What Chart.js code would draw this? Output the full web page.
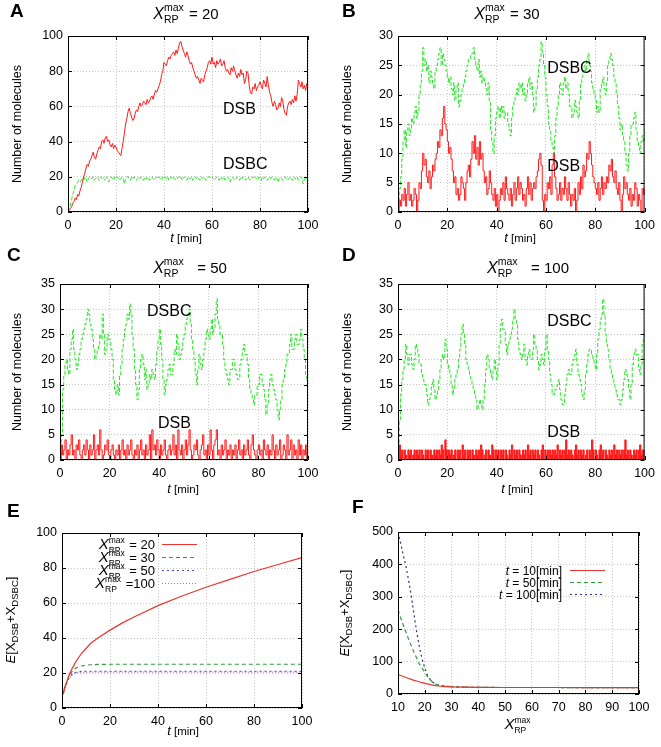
<!DOCTYPE html>
<html>
<head>
<meta charset="utf-8">
<title>DSB / DSBC trajectories</title>
<script src="https://cdn.jsdelivr.net/npm/chart.js@4.4.1/dist/chart.umd.min.js"></script>
<style>
  body { margin: 0; background: #fff; }
  #wrap { position: relative; width: 661px; height: 747px; overflow: hidden; background: #fff; }
  canvas { position: absolute; }
</style>
</head>
<body>
<div id="wrap"></div>
<script>
// sample times for panels A-D, every half minute
const tMin = Array.from({ length: 201 }, (_, i) => i / 2);

// A : X_RP^max = 20
const dsbA = [
  0,1,2,3,5,6,8,7,10,9, 12,14,17,20,22,25,27,26,29,30,
  32,34,31,30,33,35,37,36,40,41, 39,42,43,40,41,38,37,39,36,38,
  37,35,34,33,32,36,40,45,50,53, 57,59,56,54,52,53,56,58,57,60,
  62,60,61,63,62,61,64,62,63,65, 66,64,67,69,68,70,72,74,78,80,
  85,84,83,86,88,87,89,90,91,89, 92,90,93,96,97,94,92,90,88,91,
  89,86,84,85,82,80,78,76,77,75, 73,76,75,74,78,80,82,85,86,84,
  88,84,85,82,86,84,85,87,83,84, 86,82,80,81,79,78,82,80,83,80,
  78,76,79,77,81,78,79,73,75,80, 79,72,68,67,71,70,73,69,71,72,
  74,72,70,75,73,71,77,72,68,66, 62,60,63,61,58,59,62,60,65,63,
  58,56,55,60,62,63,61,64,62,66, 63,67,75,73,71,74,70,72,69,73,
  70
];
const dsbcA = [
  0,2,4,7,10,12,15,16,17,18, 17,18,19,18,20,19,17,19,20,19,
  19,20,18,19,20,19,18,20,19,20, 19,18,20,19,17,19,20,19,18,20,
  19,20,19,18,19,20,19,16,19,20, 20,19,18,20,19,20,19,18,19,20,
  19,20,19,18,20,19,19,20,18,19, 20,19,18,19,20,19,20,19,18,20,
  19,20,19,20,18,19,20,19,20,19, 18,19,20,19,20,18,19,20,19,18,
  20,19,19,20,18,19,20,19,20,19, 18,20,19,20,19,18,19,20,20,19,
  20,19,18,19,20,19,18,20,19,19, 20,18,19,20,19,17,19,20,19,18,
  19,20,19,18,20,19,20,19,18,19, 20,19,18,19,20,19,20,19,18,20,
  19,18,20,19,20,19,18,19,20,19, 20,19,18,20,19,17,19,20,19,18,
  19,20,19,18,19,20,19,18,20,19, 19,20,18,19,20,19,16,19,20,19,
  20
];

// B : X_RP^max = 30
const dsbB = [
  0,2,1,3,2,4,1,3,5,2, 3,1,2,4,3,0,2,5,4,7,
  10,8,9,6,5,7,4,6,8,7, 9,10,12,11,14,13,16,18,15,14,
  12,10,11,9,7,5,6,3,4,2, 3,6,5,4,2,5,7,8,6,9,
  12,10,13,9,11,8,12,9,10,7, 5,6,3,4,7,5,3,2,4,1,
  3,0,2,4,3,5,2,6,4,3, 2,4,1,3,5,2,4,6,3,5,
  4,2,3,1,4,6,3,5,2,4, 5,4,6,7,9,10,8,2,0,3,
  2,5,4,6,3,8,10,6,4,2, 3,5,2,4,3,6,4,2,5,3,
  1,3,2,4,0,2,5,3,6,4, 8,6,7,10,9,12,10,8,6,5,
  4,3,5,2,4,6,3,5,4,6, 5,8,7,9,6,5,7,4,3,5,
  2,0,3,6,4,5,3,2,4,1, 3,2,5,4,1,3,2,0,4,3,
  4
];
const dsbcB = [
  2,4,6,9,12,14,11,14,15,13, 14,16,15,17,18,16,17,20,22,24,
  28,25,26,24,25,22,24,23,22,21, 24,25,26,27,28,25,27,26,25,24,
  23,22,23,21,20,22,19,21,22,18, 19,20,21,22,23,24,25,26,26,27,
  27,28,26,25,24,26,23,24,22,23, 22,21,20,22,19,14,12,10,13,16,
  17,18,16,18,17,18,16,17,17,15, 14,13,16,18,19,20,21,20,22,21,
  22,20,21,19,20,22,23,21,22,20, 17,18,21,23,25,26,29,27,25,23,
  20,18,15,14,12,11,10,13,16,18, 20,22,21,20,22,23,21,22,20,18,
  18,16,17,19,18,17,16,19,22,23, 24,25,24,26,27,25,24,22,21,20,
  19,17,18,17,21,22,23,21,20,22, 25,26,27,26,25,23,22,20,18,16,
  14,15,13,12,10,8,7,10,13,15, 15,16,17,14,12,11,10,12,13,12,
  14
];

// C : X_RP^max = 50
const dsbC = [
  0,3,1,2,4,0,2,1,3,5, 1,2,0,3,2,4,1,0,2,3,
  1,4,2,0,3,1,2,5,0,2, 3,1,6,2,0,1,3,2,4,1,
  0,2,3,1,0,2,1,3,0,2, 4,1,2,0,3,1,2,4,1,0,
  2,1,3,0,2,4,1,2,0,3, 1,2,5,0,6,2,3,1,4,2,
  0,3,1,2,4,1,0,2,3,1, 2,5,1,3,0,6,2,1,3,0,
  2,4,1,3,6,2,0,1,3,2, 4,1,0,2,3,5,1,2,0,3,
  1,6,2,0,3,4,6,1,2,0, 3,1,2,4,0,2,1,3,0,2,
  1,3,0,2,4,1,2,0,3,1, 2,4,1,0,3,5,2,1,0,2,
  3,1,2,0,4,2,1,3,0,2, 1,5,2,0,3,1,2,4,0,1,
  3,2,0,5,1,2,4,0,3,1, 2,0,4,1,3,0,2,1,3,0,
  1
];
const dsbcC = [
  0,5,14,17,19,20,18,17,22,24, 26,22,20,18,19,21,22,24,25,26,
  27,28,30,29,27,26,24,22,20,21, 22,23,25,24,29,25,21,22,25,24,
  24,22,20,16,14,13,15,13,17,19, 22,24,26,27,29,28,31,29,25,22,
  18,15,12,14,18,20,21,19,16,18, 14,15,17,16,18,17,16,19,22,24,
  26,23,20,16,13,15,16,18,19,17, 17,19,22,21,25,23,20,21,22,24,
  25,27,28,29,30,27,24,22,20,17, 15,18,21,19,18,20,22,24,26,25,
  24,26,28,25,26,29,32,28,27,25, 25,23,20,18,17,16,15,18,18,20,
  20,18,17,16,16,19,20,22,23,21, 21,19,16,14,13,12,11,13,13,15,
  15,17,17,15,14,12,9,11,14,16, 17,15,14,13,12,10,8,10,12,15,
  16,18,19,21,21,23,25,22,22,24, 25,23,23,24,26,24,22,20,17,16,
  15
];

// D : X_RP^max = 100
const dsbD = [
  0,3,1,2,0,2,1,0,2,1, 2,0,1,2,0,2,1,2,0,2,
  1,0,2,1,2,0,2,1,0,2, 1,2,0,2,1,3,2,0,4,2,
  0,2,1,2,0,1,2,0,2,1, 2,0,3,1,2,0,2,1,2,0,
  2,1,0,2,1,2,0,3,2,0, 1,2,0,2,1,0,3,2,0,2,
  1,2,0,2,1,2,0,2,1,0, 2,1,3,0,2,1,2,0,2,1,
  0,2,1,2,0,3,1,2,0,2, 1,2,0,2,1,0,2,3,0,2,
  1,2,0,2,1,2,0,2,1,3, 0,2,1,2,0,2,4,1,2,0,
  2,1,0,2,3,1,2,0,2,1, 2,0,1,2,0,2,1,4,2,0,
  2,1,0,2,3,1,2,0,2,1, 0,2,1,2,0,3,1,2,0,2,
  1,2,0,2,4,1,2,0,2,1, 0,2,1,2,0,2,3,1,2,0,
  2
];
const dsbcD = [
  0,8,13,16,18,20,23,21,19,21, 21,19,18,20,23,22,21,19,19,17,
  16,15,15,13,11,12,13,15,16,14, 12,13,14,16,18,20,21,20,24,22,
  19,18,17,15,13,14,16,17,18,20, 22,25,27,25,23,20,19,18,17,16,
  15,14,13,12,10,11,12,11,10,12, 15,18,21,20,18,17,16,18,20,18,
  16,19,23,27,28,26,26,23,21,23, 24,25,26,28,30,28,27,24,22,21,
  20,21,23,20,19,21,22,20,20,22, 25,23,22,20,18,19,21,20,19,22,
  25,22,20,17,15,13,13,14,14,15, 16,14,12,11,11,13,15,17,18,17,
  17,19,20,21,22,19,17,16,15,13, 12,14,17,19,21,22,22,21,20,19,
  18,21,24,26,28,29,32,29,25,23, 22,20,18,17,16,15,14,13,12,12,
  11,12,14,16,18,17,16,14,12,15, 19,21,22,21,21,18,17,19,23,24,
  26
];

// E : mean of X_DSB + X_DSBC over time
const tE = [0.5, 1, 2, 3, 4, 5, 6, 7, 8, 10, 12, 15, 20, 25, 30, 40, 50, 60, 70, 80, 90, 100];
const meanE20 = [8, 11, 15, 19, 22, 24.5, 27, 29, 31, 34, 37, 40, 44.5, 48.5, 52, 58.5, 64, 69, 73.5, 78, 82, 86];
const meanE30 = [8, 11, 15, 18.5, 20.5, 22, 23, 23.6, 24, 24.5, 24.7, 24.9, 25, 25, 25, 25, 25, 25, 25, 25, 25, 25];
const meanE50 = [8, 11, 14.5, 17.5, 19, 20, 20.5, 20.7, 20.9, 21, 21, 21, 21, 21, 21, 21, 21, 21, 21, 21, 21, 21];
const meanE100 = [8, 11, 14.5, 17, 18.5, 19.5, 20, 20.2, 20.3, 20.4, 20.5, 20.5, 20.5, 20.5, 20.5, 20.5, 20.5, 20.5, 20.5, 20.5, 20.5, 20.5];

// F : mean of X_DSB + X_DSBC against X_RP^max
const xRP = [10, 11, 12, 13, 14, 15, 16, 17, 18, 19, 20, 21, 22, 23, 24, 25, 26, 27, 28, 30, 35, 40, 50, 60, 70, 80, 90, 100];
const meanF10 = [60, 57, 54, 51, 48, 45, 42, 40, 37, 35, 33, 31, 29, 27.5, 26, 25, 24, 23.5, 23, 22, 21, 20.5, 20, 20, 20, 19.5, 19.5, 19.5];
const meanF50 = [260, 235, 212, 190, 168, 148, 128, 110, 92, 80, 66, 54, 44, 36, 31, 27, 25.5, 24.5, 23.5, 22.5, 21, 20.5, 20, 20, 20, 19.5, 19.5, 19.5];
const meanF100 = [500, 465, 428, 392, 350, 300, 245, 190, 145, 108, 80, 58, 45, 36, 31, 28, 26, 25, 24, 22.5, 21, 20.5, 20, 20, 20, 19.5, 19.5, 19.5];

const FONT = '"Liberation Sans", Arial, Helvetica, sans-serif';
const RED = '#ff1a1a';
const GREEN = '#22e822';

function font(size, italic, bold) {
  return (italic ? 'italic ' : '') + (bold ? 'bold ' : '') + size + 'px ' + FONT;
}

function pts(xs, ys) {
  return xs.map((x, i) => ({ x: x, y: ys[i] }));
}

// rich text: {t, s, i, b} plain run, {sup, sub, s, up, down} stacked scripts
function partWidth(ctx, p) {
  if (p.t !== undefined) {
    ctx.font = font(p.s, p.i, p.b);
    return ctx.measureText(p.t).width + (p.dx || 0);
  }
  ctx.font = font(p.s);
  const a = p.sup ? ctx.measureText(p.sup).width : 0;
  const b = p.sub ? ctx.measureText(p.sub).width : 0;
  return Math.max(a, b) + (p.dx || 0);
}

function drawRich(ctx, parts, x, y, align) {
  const widths = parts.map(p => partWidth(ctx, p));
  const total = widths.reduce((a, b) => a + b, 0);
  let cx = align === 'center' ? x - total / 2 : align === 'right' ? x - total : x;
  ctx.textAlign = 'left';
  ctx.textBaseline = 'alphabetic';
  ctx.fillStyle = '#000';
  parts.forEach((p, k) => {
    if (p.t !== undefined) {
      ctx.font = font(p.s, p.i, p.b);
      ctx.fillText(p.t, cx, y);
    } else {
      ctx.font = font(p.s);
      if (p.sup) ctx.fillText(p.sup, cx, y - p.up);
      if (p.sub) ctx.fillText(p.sub, cx, y + p.down);
    }
    cx += widths[k];
  });
}

function makeDecor(texts) {
  return {
    id: 'decor',
    afterDatasetsDraw(chart) {
      const { ctx, chartArea: a, scales } = chart;
      ctx.save();
      ctx.strokeStyle = '#000';
      ctx.lineWidth = 1;
      ctx.strokeRect(a.left + 0.5, a.top + 0.5, a.right - a.left - 1, a.bottom - a.top - 1);
      ctx.beginPath();
      scales.x.ticks.forEach(t => {
        const px = Math.round(scales.x.getPixelForValue(t.value)) + 0.5;
        ctx.moveTo(px, a.bottom); ctx.lineTo(px, a.bottom - 4);
        ctx.moveTo(px, a.top); ctx.lineTo(px, a.top + 4);
      });
      scales.y.ticks.forEach(t => {
        const py = Math.round(scales.y.getPixelForValue(t.value)) + 0.5;
        ctx.moveTo(a.left, py); ctx.lineTo(a.left + 4, py);
        ctx.moveTo(a.right, py); ctx.lineTo(a.right - 4, py);
      });
      ctx.stroke();
      ctx.restore();
    },
    afterDraw(chart) {
      const { ctx, scales } = chart;
      ctx.save();
      texts.forEach(tx => {
        if (tx.rot) {
          ctx.save();
          ctx.translate(tx.x, tx.y);
          ctx.rotate(-Math.PI / 2);
          drawRich(ctx, tx.parts, 0, 0, 'center');
          ctx.restore();
        } else if (tx.at) {
          const px = scales.x.getPixelForValue(tx.at[0]);
          const py = scales.y.getPixelForValue(tx.at[1]);
          drawRich(ctx, tx.parts, px, py + 0.36 * tx.parts[0].s, 'left');
        } else if (tx.legend) {
          const ds = chart.data.datasets;
          tx.legend.forEach((row, i) => {
            const y = tx.rows[i];
            drawRich(ctx, row, tx.x, y, 'right');
            ctx.save();
            ctx.strokeStyle = ds[i].borderColor;
            ctx.lineWidth = ds[i].borderWidth;
            ctx.setLineDash(ds[i].borderDash || []);
            ctx.beginPath();
            ctx.moveTo(tx.x1, y - 4.5);
            ctx.lineTo(tx.x2, y - 4.5);
            ctx.stroke();
            ctx.restore();
          });
        } else {
          drawRich(ctx, tx.parts, tx.x, tx.y, tx.align || 'left');
        }
      });
      ctx.restore();
    }
  };
}

function axis(min, max, step, size) {
  return {
    type: 'linear', min: min, max: max,
    ticks: { stepSize: step, autoSkip: false, maxRotation: 0, color: '#000', font: { family: FONT, size: 12.5 }, padding: 5 },
    grid: { color: '#c8c8c8', lineWidth: 1, drawTicks: false },
    border: { display: false, dash: [1, 2] },
    afterFit: size
  };
}

function panel(box, area, datasets, xr, yr, texts) {
  const canvas = document.createElement('canvas');
  canvas.width = box.w;
  canvas.height = box.h;
  canvas.style.left = box.left + 'px';
  canvas.style.top = box.top + 'px';
  document.getElementById('wrap').appendChild(canvas);
  const xAxis = axis(xr[0], xr[1], xr[2], s => { s.height = box.h - area.b; });
  xAxis.ticks.padding = 6;
  const yAxis = axis(yr[0], yr[1], yr[2], s => { s.width = area.l; });
  return new Chart(canvas, {
    type: 'line',
    data: { datasets: datasets },
    options: {
      responsive: false,
      animation: false,
      devicePixelRatio: 1,
      layout: { padding: { left: 0, top: area.t, right: box.w - area.r, bottom: 0 } },
      plugins: { legend: { display: false }, tooltip: { enabled: false } },
      elements: { point: { radius: 0 }, line: { tension: 0 } },
      scales: { x: xAxis, y: yAxis }
    },
    plugins: [makeDecor(texts)]
  });
}

function trace(ys, color, dashed, stepped, filled) {
  return {
    data: pts(tMin, ys), borderColor: color, borderWidth: 1,
    borderDash: dashed ? [4, 2] : [], stepped: stepped,
    fill: filled ? 'origin' : false, backgroundColor: color
  };
}

function titleParts(n, gap) {
  return [
    { t: 'X', s: 16, i: true },
    { sup: 'max', sub: 'RP', s: 10.5, up: 8, down: 4, dx: 1 },
    { t: gap + '= ' + n, s: 15 }
  ];
}
const tLabel = [{ t: 't', s: 13, i: true }, { t: ' [min]', s: 11.5 }];
const molLabel = [{ t: 'Number of molecules', s: 12.5 }];
const meanLabel = [
  { t: 'E', s: 13, i: true }, { t: '[X', s: 13 }, { sub: 'DSB', s: 9.5, down: 3 },
  { t: '+X', s: 13 }, { sub: 'DSBC', s: 9.5, down: 3 }, { t: ']', s: 13 }
];
function letter(ch, x, y) {
  return { x: x, y: y, parts: [{ t: ch, s: 19, b: true }] };
}
function xrpParts(rest, s) {
  return [{ t: 'X', s: s + 2, i: true }, { sup: 'max', sub: 'RP', s: 8.5, up: 6.5, down: 3.5, dx: 1 }, { t: rest, s: s }];
}

// A
panel({ left: 0, top: 0, w: 330, h: 250 }, { l: 68, t: 36, r: 308, b: 212 },
  [trace(dsbA, RED, false, false), trace(dsbcA, GREEN, true, false)],
  [0, 100, 20], [0, 100, 20], [
    letter('A', 10, 17),
    { x: 186, y: 19, align: 'center', parts: titleParts('20', ' ') },
    { x: 186, y: 242, align: 'center', parts: tLabel },
    { rot: true, x: 21, y: 124, parts: molLabel },
    { at: [64.6, 59], parts: [{ t: 'DSB', s: 16 }] },
    { at: [64.6, 27.8], parts: [{ t: 'DSBC', s: 16 }] }
  ]);

// B
panel({ left: 330, top: 0, w: 331, h: 250 }, { l: 68, t: 36, r: 316, b: 212 },
  [trace(dsbB, RED, false, true), trace(dsbcB, GREEN, true, true)],
  [0, 100, 20], [0, 30, 5], [
    letter('B', 12, 17),
    { x: 177, y: 19, align: 'center', parts: titleParts('30', ' ') },
    { x: 190, y: 242, align: 'center', parts: tLabel },
    { rot: true, x: 21, y: 124, parts: molLabel },
    { at: [60.5, 24.7], parts: [{ t: 'DSBC', s: 16 }] },
    { at: [60.5, 8.0], parts: [{ t: 'DSB', s: 16 }] }
  ]);

// C
panel({ left: 0, top: 240, w: 330, h: 262 }, { l: 60, t: 44, r: 308, b: 220 },
  [trace(dsbC, RED, false, true), trace(dsbcC, GREEN, true, true)],
  [0, 100, 20], [0, 35, 5], [
    letter('C', 7, 21),
    { x: 190, y: 33, align: 'center', parts: titleParts('50', '   ') },
    { x: 183, y: 253, align: 'center', parts: tLabel },
    { rot: true, x: 21, y: 132, parts: molLabel },
    { at: [35.1, 29.8], parts: [{ t: 'DSBC', s: 16 }] },
    { at: [39.5, 7.6], parts: [{ t: 'DSB', s: 16 }] }
  ]);

// D
panel({ left: 330, top: 240, w: 331, h: 262 }, { l: 68, t: 44, r: 316, b: 220 },
  [trace(dsbD, RED, false, true, true), trace(dsbcD, GREEN, true, true)],
  [0, 100, 20], [0, 35, 5], [
    letter('D', 12, 21),
    { x: 198, y: 33, align: 'center', parts: titleParts('100', '   ') },
    { x: 187, y: 253, align: 'center', parts: tLabel },
    { rot: true, x: 21, y: 132, parts: molLabel },
    { at: [60.5, 27.8], parts: [{ t: 'DSBC', s: 16 }] },
    { at: [60.5, 5.8], parts: [{ t: 'DSB', s: 16 }] }
  ]);

// E
function meanLine(xs, ys, color, dash) {
  return { data: pts(xs, ys), borderColor: color, borderWidth: 1.2, borderDash: dash, fill: false };
}
panel({ left: 0, top: 480, w: 330, h: 267 }, { l: 62, t: 53, r: 302, b: 228 },
  [meanLine(tE, meanE20, '#e8352e', []), meanLine(tE, meanE30, '#2e9e3c', [4, 3]),
   meanLine(tE, meanE50, '#4a4ab0', [2, 3]), meanLine(tE, meanE100, '#c85ac8', [1, 2])],
  [0, 100, 20], [0, 100, 20], [
    letter('E', 7, 37),
    { rot: true, x: 15, y: 140, parts: meanLabel },
    { x: 183, y: 255, align: 'center', parts: tLabel },
    { legend: [xrpParts(' = 20', 13), xrpParts(' = 30', 13), xrpParts(' = 50', 13), xrpParts(' =100', 13)],
      rows: [69, 82, 95, 108], x: 155, x1: 162, x2: 197 }
  ]);

// F
panel({ left: 330, top: 480, w: 331, h: 267 }, { l: 68, t: 52, r: 309, b: 214 },
  [meanLine(xRP, meanF10, '#e8352e', []), meanLine(xRP, meanF50, '#2e9e3c', [4, 3]),
   meanLine(xRP, meanF100, '#2e2e88', [2, 3])],
  [10, 100, 10], [0, 500, 100], [
    letter('F', 22, 33),
    { rot: true, x: 19, y: 133, parts: meanLabel },
    { x: 188, y: 249, align: 'center', parts: xrpParts('', 13) },
    { legend: [
        [{ t: 't', s: 12, i: true }, { t: ' = 10[min]', s: 12 }],
        [{ t: 't', s: 12, i: true }, { t: ' = 50[min]', s: 12 }],
        [{ t: 't', s: 12, i: true }, { t: ' = 100[min]', s: 12 }]
      ], rows: [95, 107, 119], x: 232, x1: 240, x2: 275 }
  ]);
</script>
</body>
</html>
